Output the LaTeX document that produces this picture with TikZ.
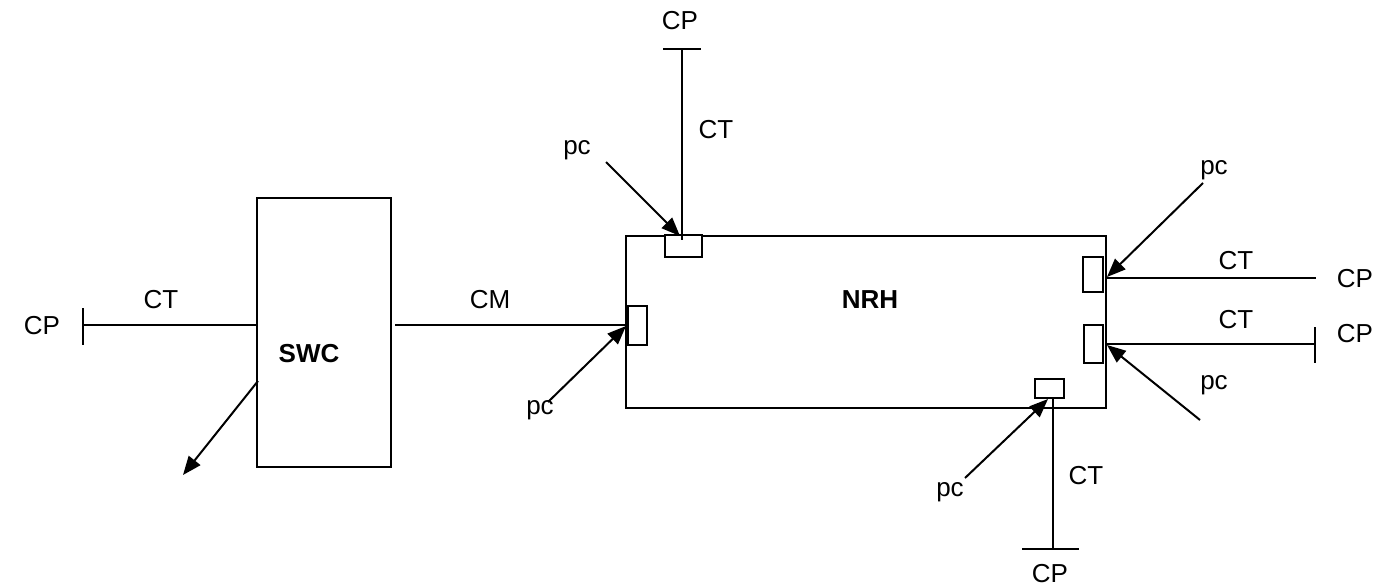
\documentclass[tikz,border=0pt]{standalone}
\usepackage{fontspec}
\setmainfont{Liberation Sans}
\usetikzlibrary{arrows.meta}
\begin{document}
\begin{tikzpicture}[x=0.75pt,y=-0.75pt,
  ln/.style={line width=1.5pt},
  arr/.style={line width=1.5pt,-{Triangle[length=14pt,width=11pt]}},
  lbl/.style={font=\fontsize{19.5}{22}\selectfont,inner sep=0pt},
  bold/.style={font=\fontsize{19.5}{22}\selectfont\bfseries,inner sep=0pt},
  port/.style={draw,line width=1.5pt,inner sep=0pt,fill=white}]
\useasboundingbox (0,0) rectangle (1390,586);
% main boxes
\node[draw,line width=1.5pt,minimum width=134*0.75pt,minimum height=269*0.75pt,inner sep=0pt] (swc) at (324,332.5) {};
\node[bold] (swct) at (309,354) {SWC};
\node[draw,line width=1.5pt,minimum width=480*0.75pt,minimum height=172*0.75pt,inner sep=0pt] (nrh) at (866,321.5) {};
\node[bold] (nrht) at (870,300) {NRH};
% ports
\node[port,minimum width=37*0.75pt,minimum height=22*0.75pt] (pt) at (683.5,246) {};
\node[port,minimum width=19*0.75pt,minimum height=39*0.75pt] (pl) at (637.5,325) {};
\node[port,minimum width=20*0.75pt,minimum height=35*0.75pt] (pr1) at (1093,274.5) {};
\node[port,minimum width=19*0.75pt,minimum height=38*0.75pt] (pr2) at (1093.5,344) {};
\node[port,minimum width=29*0.75pt,minimum height=19*0.75pt] (pb) at (1049.5,388.5) {};
% left CT
\coordinate (lend) at (83,325);
\draw[ln] (lend) -- (257,325);
\draw[ln] (83,308) -- (83,345);
\node[lbl] (cpl) at (42,326) {CP};
\node[lbl] (ctl) at (161,300) {CT};
% SWC arrow
\coordinate (swa) at (258,381);
\coordinate (swb) at (183,475);
\draw[arr] (swa) -- (swb);
% CM
\draw[ln] (395,325) -- (pl.west);
\node[lbl] (cm) at (490,300) {CM};
\coordinate (pla) at (548,402);
\draw[arr] (pla) -- (626,326);
\node[lbl] (pcl) at (540,410) {pc};
% top
\coordinate (ttop) at (682,49);
\draw[ln] (ttop) -- (682,240);
\draw[ln] (663,49) -- (701,49);
\node[lbl] (cpt) at (680,21) {CP};
\node[lbl] (ctt) at (716,130) {CT};
\coordinate (pta) at (606,162);
\draw[arr] (pta) -- (680,236);
\node[lbl] (pct) at (577,150) {pc};
% right upper
\coordinate (r1end) at (1316,278);
\draw[ln] (1106,278) -- (r1end);
\node[lbl] (cpr1) at (1355,279) {CP};
\node[lbl] (ctr1) at (1236,261) {CT};
\coordinate (r1a) at (1203,183);
\draw[arr] (r1a) -- (1107,277);
\node[lbl] (pcr1) at (1214,170) {pc};
% right lower
\coordinate (r2end) at (1315,344);
\draw[ln] (1106,344) -- (r2end);
\draw[ln] (1315,327) -- (1315,363);
\node[lbl] (cpr2) at (1355,334) {CP};
\node[lbl] (ctr2) at (1236,320) {CT};
\coordinate (r2a) at (1200,420);
\draw[arr] (r2a) -- (1107,345);
\node[lbl] (pcr2) at (1214,385) {pc};
% bottom
\coordinate (bend) at (1053,549);
\draw[ln] (1053,398) -- (bend);
\draw[ln] (1022,549) -- (1079,549);
\node[lbl] (cpb) at (1050,574) {CP};
\node[lbl] (ctb) at (1086,476) {CT};
\coordinate (pba) at (965,478);
\draw[arr] (pba) -- (1048,399);
\node[lbl] (pcb) at (950,492) {pc};
\end{tikzpicture}
\end{document}
